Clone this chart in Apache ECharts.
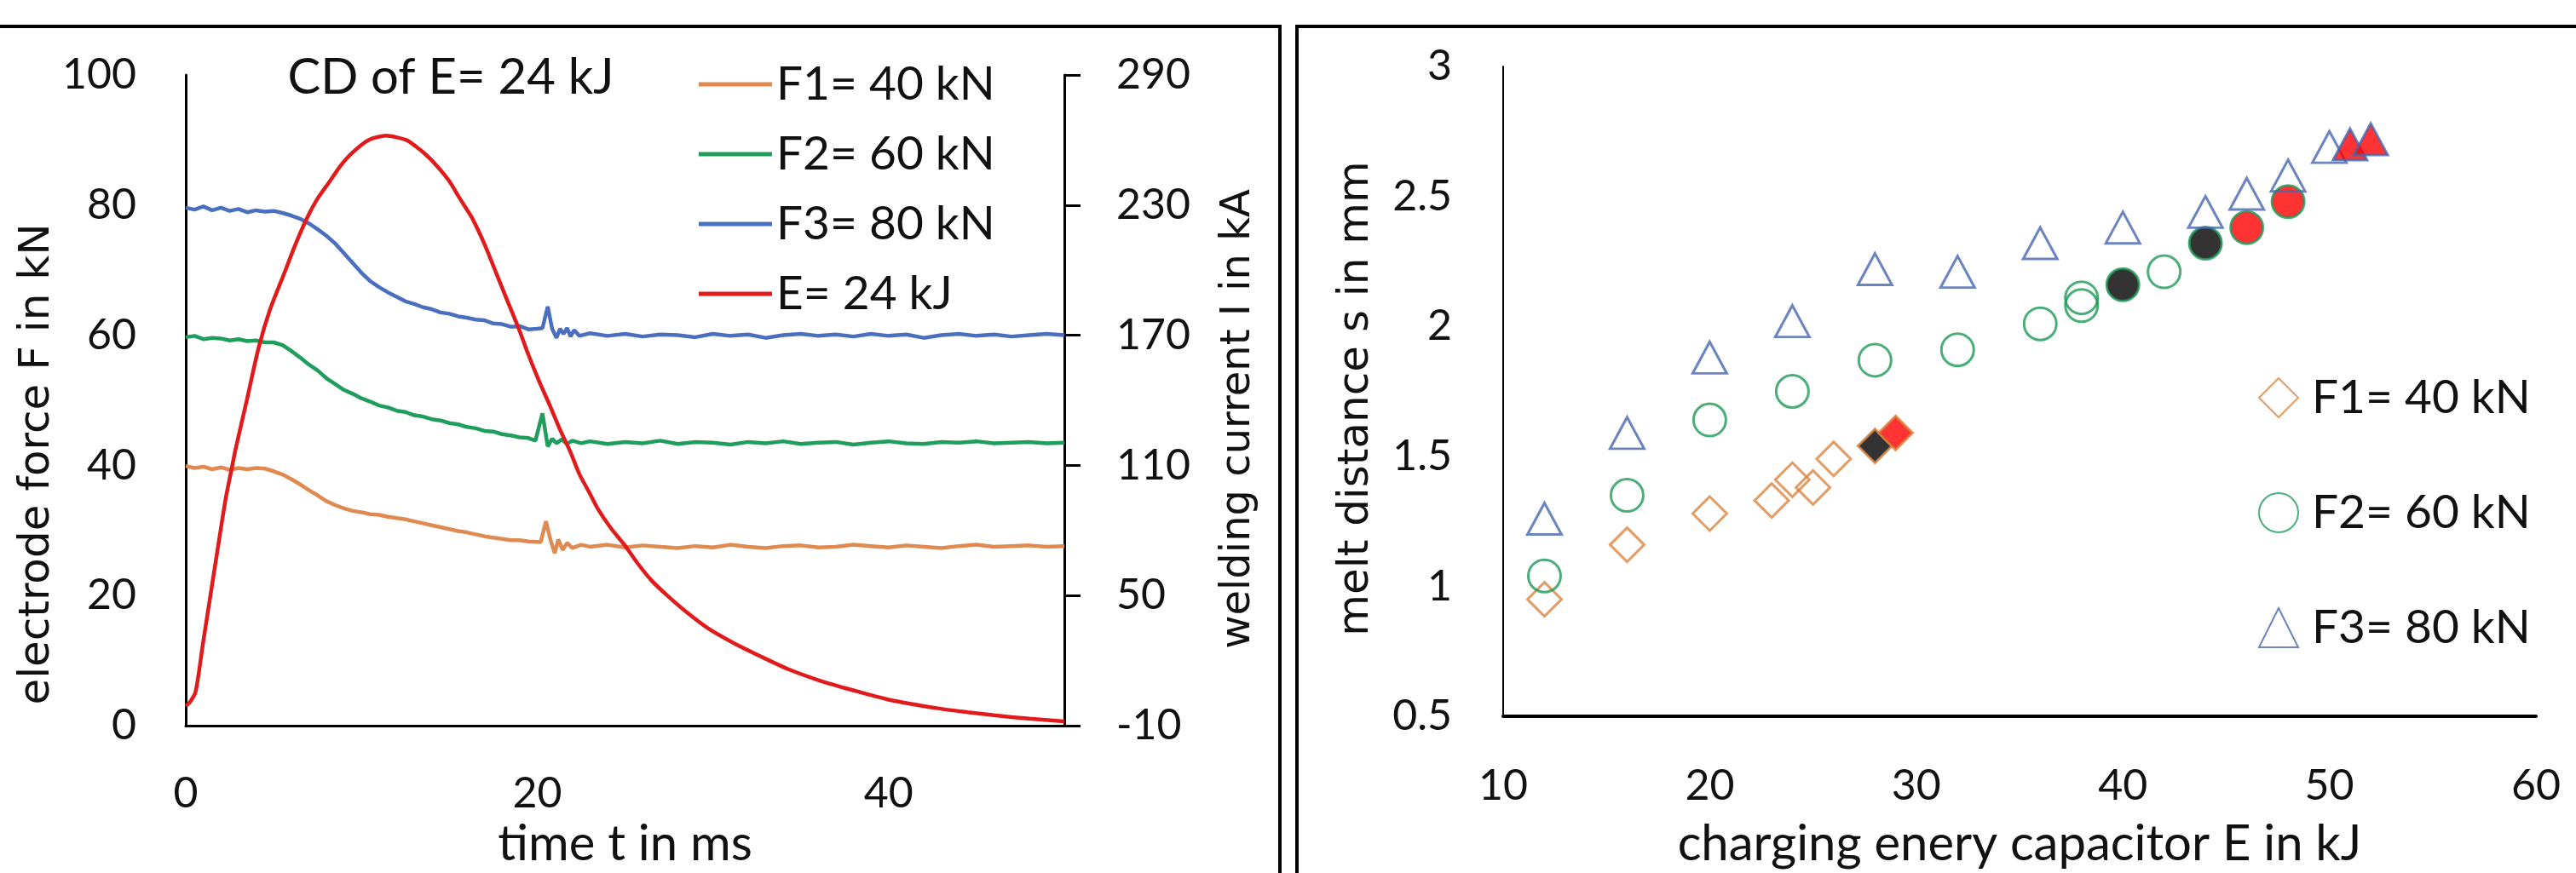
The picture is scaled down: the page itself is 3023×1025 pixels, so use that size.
<!DOCTYPE html>
<html><head><meta charset="utf-8">
<script src="https://cdn.jsdelivr.net/npm/echarts@6/dist/echarts.min.js"></script>
<style>html,body{margin:0;padding:0;background:#fff}#c{width:3023px;height:1025px}</style>
</head><body><div id="c"></div>
<script>
// ---------- left chart: force (kN) and current (kA) over time (ms) ----------
const tF1 = [0,0.5,1,1.5,2,2.5,3,3.5,4,4.5,5,5.5,6,6.5,7,7.5,8,8.5,9,9.5,10,10.5,11,11.5,12,12.5,13,13.5,14,14.5,15,15.5,16,16.5,17,17.5,18,18.5,19,19.5,
  20.2,20.5,20.75,21.0,21.2,21.45,21.7,22,22.5,
  23,24,25,26,27,28,29,30,31,32,33,34,35,36,37,38,39,40,41,42,43,44,45,46,47,48,49,50];
const vF1 = [39.9,39.6,39.8,39.4,39.7,39.3,39.6,39.4,39.6,39.5,39.1,38.6,37.9,37.1,36.2,35.4,34.5,33.9,33.4,33.0,
  32.8,32.5,32.4,32.1,31.9,31.7,31.4,31.1,30.8,30.5,30.2,29.9,29.7,29.4,29.1,28.9,28.7,28.5,28.5,28.3,
  28.2,31.4,28.6,26.5,28.6,27.0,28.1,27.3,27.8,
  27.5,27.8,27.4,27.7,27.5,27.3,27.6,27.4,27.8,27.5,27.3,27.6,27.7,27.4,27.5,27.8,27.6,27.4,27.7,27.5,27.3,27.6,27.8,27.5,27.6,27.7,27.5,27.6];

const tF2 = [0,0.5,1,1.5,2,2.5,3,3.5,4,4.5,5,5.5,6,6.5,7,7.5,8,8.5,9,9.5,10,10.5,11,11.5,12,12.5,13,13.5,14,14.5,15,15.5,16,16.5,17,17.5,18,18.5,19,19.5,
  19.9,20.3,20.6,20.85,21.1,21.4,21.7,22,22.5,
  23,24,25,26,27,28,29,30,31,32,33,34,35,36,37,38,39,40,41,42,43,44,45,46,47,48,49,50];
const vF2 = [59.7,59.9,59.4,59.6,59.5,59.2,59.4,59.1,59.2,58.9,58.9,58.5,57.6,56.6,55.5,54.6,53.4,52.5,51.6,51.0,
  50.3,49.8,49.2,48.9,48.4,48.2,47.7,47.5,47.1,46.9,46.5,46.3,45.9,45.7,45.3,45.2,44.8,44.6,44.3,44.2,
  43.8,48.0,42.9,44.1,43.4,44.0,43.3,43.8,43.4,
  43.7,43.3,43.6,43.4,43.8,43.3,43.6,43.5,43.2,43.6,43.4,43.7,43.3,43.5,43.6,43.2,43.5,43.7,43.4,43.3,43.6,43.5,43.7,43.4,43.5,43.6,43.4,43.5];

const tF3 = [0,0.5,1,1.5,2,2.5,3,3.5,4,4.5,5,5.5,6,6.5,7,7.5,8,8.5,9,9.5,10,10.5,11,11.5,12,12.5,13,13.5,14,14.5,15,15.5,16,16.5,17,17.5,18,18.5,19,19.5,20,
  20.3,20.6,20.85,21.1,21.3,21.5,21.7,21.9,22.1,22.4,
  23,24,25,26,27,28,29,30,31,32,33,34,35,36,37,38,39,40,41,42,43,44,45,46,47,48,49,50];
const vF3 = [79.6,79.3,79.8,79.2,79.6,79.1,79.4,78.9,79.2,79.0,79.1,78.8,78.4,77.9,77.2,76.3,75.3,74.1,72.6,71.1,
  69.6,68.3,67.4,66.6,65.9,65.2,64.8,64.3,64.0,63.5,63.3,62.9,62.7,62.4,62.3,61.8,61.7,61.3,61.4,60.9,61.0,
  61.1,64.4,61.0,59.6,61.0,60.2,61.1,59.8,60.8,59.9,
  60.3,59.9,60.2,59.8,60.1,60.0,59.7,60.2,59.9,60.1,59.6,60.0,60.2,59.9,60.1,59.8,60.2,59.9,60.1,59.6,60.0,60.2,59.9,60.1,59.8,60.0,60.2,60.0];

const tE = [0,0.25,0.56,1.0,1.5,2.0,2.28,2.6,2.85,3.5,4.14,4.8,5.58,6.2,6.9,7.5,8.2,8.8,9.46,10.4,
  11.4,12.55,13.1,13.7,14.3,15.0,15.6,16.3,17.0,17.7,18.3,19.0,19.5,20.1,20.7,21.3,21.9,22.4,23.0,23.45,
  24.2,25.0,25.7,26.5,27.4,28.4,29.7,31.2,32.7,34.3,36.0,37.9,40.0,42.8,44.5,46.0,48.0,50.0];
const iE = [-1,1,5.6,29,55,81,95,108,118,141,164,182,198,211,224,233,241,248,254,260,
  262,260,257,253,248,241,233,224,212,198,186,172,161,149,138,126.5,116,106,97,90,
  81,73,65,57,50,43,35,28,22,16,11,6.5,2,-2,-3.8,-5.2,-6.8,-8];

const timeTicks = [0, 20, 40];
const currentTicks = [-10, 50, 110, 170, 230, 290];
const lineNames = ['F1= 40 kN', 'F2= 60 kN', 'F3= 80 kN', 'E= 24 kJ'];

// ---------- right chart: melt distance (mm) vs charging energy (kJ) ----------
// mark: o = open marker, b = black filled, r = red filled
const e1 = [12, 16, 20, 23, 24, 25, 26, 28, 29];
const s1 = [0.95, 1.16, 1.28, 1.33, 1.41, 1.38, 1.49, 1.54, 1.59];
const m1 = ['o','o','o','o','o','o','o','b','r'];

const e2 = [12, 16, 20, 24, 28, 32, 36, 38, 38, 40, 42, 44, 46, 48];
const s2 = [1.04, 1.35, 1.64, 1.75, 1.87, 1.91, 2.01, 2.08, 2.11, 2.16, 2.21, 2.32, 2.38, 2.48];
const m2 = ['o','o','o','o','o','o','o','o','o','b','o','b','r','r'];

const e3 = [12, 16, 20, 24, 28, 32, 36, 40, 44, 46, 48, 50, 51, 52];
const s3 = [1.26, 1.59, 1.88, 2.02, 2.22, 2.21, 2.32, 2.38, 2.44, 2.51, 2.58, 2.69, 2.70, 2.72];
const m3 = ['o','o','o','o','o','o','o','o','o','o','o','o','r','r'];

const scatterNames = ['F1= 40 kN', 'F2= 60 kN', 'F3= 80 kN'];

// ---------- build ----------
const ORANGE = '#DE8A50', GREEN = '#1F9D5C', BLUE = '#4A6FBE', RED = '#E11B1B';
const SC_OR = '#D9843E', SC_GR = '#1E9858', SC_BL = '#4767AE';
const TXT = '#111';
const pairs = (t, v) => t.map((x, i) => [x, v[i]]);
const fillOf = {o: 'rgba(0,0,0,0)', b: '#000000', r: '#FF0000'};
const pts = (e, s, m) => e.map((x, i) => ({value: [x, s[i]], itemStyle: {color: fillOf[m[i]]}}));
const SP = 'S:';

const tickFont = {fontFamily: 'Lato', fontSize: 50, color: TXT};

const chart = echarts.init(document.getElementById('c'));
const lineSeries = (name, data, color, yi) => ({
  type: 'line', name, data, xAxisIndex: 0, yAxisIndex: yi, symbol: 'none',
  lineStyle: {color, width: 4.5}, itemStyle: {color}, smooth: yi === 1 ? 0.25 : false, z: yi === 1 ? 3 : 2
});
const scat = (name, data, symbol, size, color) => ({
  type: 'scatter', name: SP + name, data, xAxisIndex: 1, yAxisIndex: 2, symbol, symbolSize: size,
  itemStyle: {color: 'rgba(0,0,0,0)', borderColor: color, borderWidth: 3}
});

chart.setOption({
  animation: false,
  backgroundColor: '#fff',
  grid: [
    {left: 218, right: 1774, top: 88, bottom: 168},
    {left: 1764, right: 47, top: 78, bottom: 177}
  ],
  xAxis: [
    {gridIndex: 0, type: 'value', min: 0, max: 50,
     name: 'time t in ms', nameLocation: 'middle', nameGap: 110,
     nameTextStyle: {fontFamily: 'Lato', fontSize: 58, color: TXT},
     axisLine: {lineStyle: {color: '#000', width: 3}}, axisTick: {show: false},
     axisLabel: Object.assign({margin: 55, customValues: timeTicks}, tickFont),
     splitLine: {show: false}},
    {gridIndex: 1, type: 'value', min: 10, max: 60, interval: 10,
     name: 'charging enery capacitor E in kJ', nameLocation: 'middle', nameGap: 121,
     nameTextStyle: {fontFamily: 'Lato', fontSize: 58, color: TXT},
     axisLine: {lineStyle: {color: '#000', width: 4}}, axisTick: {show: false},
     axisLabel: Object.assign({margin: 57}, tickFont),
     splitLine: {show: false}}
  ],
  yAxis: [
    {gridIndex: 0, type: 'value', min: 0, max: 100, interval: 20, position: 'left',
     axisLine: {show: true, lineStyle: {color: '#000', width: 3}}, axisTick: {show: false},
     axisLabel: Object.assign({margin: 58}, tickFont), splitLine: {show: false}},
    {gridIndex: 0, type: 'value', min: -10, max: 290, interval: 60, position: 'right',
     axisLine: {show: true, lineStyle: {color: '#000', width: 3}},
     axisTick: {show: true, inside: false, length: 19, lineStyle: {color: '#000', width: 3}, customValues: currentTicks},
     axisLabel: Object.assign({margin: 61, customValues: currentTicks}, tickFont), splitLine: {show: false}},
    {gridIndex: 1, type: 'value', min: 0.5, max: 3, interval: 0.5,
     axisLine: {show: true, lineStyle: {color: '#000', width: 2}}, axisTick: {show: false},
     axisLabel: Object.assign({margin: 60}, tickFont), splitLine: {show: false}}
  ],
  legend: [
    {data: lineNames, orient: 'vertical', left: 815, top: 64, icon: 'rect',
     itemWidth: 86, itemHeight: 5, itemGap: 22, selectedMode: false,
     textStyle: {fontFamily: 'Lato', fontSize: 55, lineHeight: 60, color: TXT}},
    {data: scatterNames.map(n => SP + n), orient: 'vertical', left: 2645, top: 430,
     itemWidth: 46, itemHeight: 46, itemGap: 71, selectedMode: false,
     formatter: n => n.replace(SP, ''),
     textStyle: {fontFamily: 'Lato', fontSize: 55, lineHeight: 64, color: TXT, padding: [0, 0, 0, 11]}}
  ],
  series: [
    lineSeries(lineNames[0], pairs(tF1, vF1), ORANGE, 0),
    lineSeries(lineNames[1], pairs(tF2, vF2), GREEN, 0),
    lineSeries(lineNames[2], pairs(tF3, vF3), BLUE, 0),
    lineSeries(lineNames[3], pairs(tE, iE), RED, 1),
    scat(scatterNames[0], pts(e1, s1, m1), 'diamond', [40, 40], SC_OR),
    scat(scatterNames[1], pts(e2, s2, m2), 'circle', 38, SC_GR),
    scat(scatterNames[2], pts(e3, s3, m3), 'triangle', [40, 37], SC_BL)
  ],
  graphic: [
    {type: 'text', x: 529, y: 91, style: {text: 'CD of E= 24 kJ', fill: TXT, font: '58px Lato', align: 'center', verticalAlign: 'middle', textAlign: 'center', textVerticalAlign: 'middle'}},
    {type: 'text', x: 44, y: 545, rotation: Math.PI / 2, style: {text: 'electrode force F in kN', fill: TXT, font: '50px "DejaVu Sans"', align: 'center', verticalAlign: 'middle', textAlign: 'center', textVerticalAlign: 'middle'}},
    {type: 'text', x: 1454, y: 492, rotation: Math.PI / 2, style: {text: 'welding current I in kA', fill: TXT, font: '48px "DejaVu Sans"', align: 'center', verticalAlign: 'middle', textAlign: 'center', textVerticalAlign: 'middle'}},
    {type: 'text', x: 1592, y: 468, rotation: Math.PI / 2, style: {text: 'melt distance s in mm', fill: TXT, font: '50px "DejaVu Sans"', align: 'center', verticalAlign: 'middle', textAlign: 'center', textVerticalAlign: 'middle'}},
    {type: 'line', shape: {x1: 0, y1: 31, x2: 1502, y2: 31}, style: {stroke: '#000', lineWidth: 4}},
    {type: 'line', shape: {x1: 1502, y1: 29, x2: 1502, y2: 1025}, style: {stroke: '#000', lineWidth: 4}},
    {type: 'line', shape: {x1: 1522, y1: 31, x2: 3023, y2: 31}, style: {stroke: '#000', lineWidth: 4}},
    {type: 'line', shape: {x1: 1522, y1: 29, x2: 1522, y2: 1025}, style: {stroke: '#000', lineWidth: 4}}
  ]
});
</script>
</body></html>
